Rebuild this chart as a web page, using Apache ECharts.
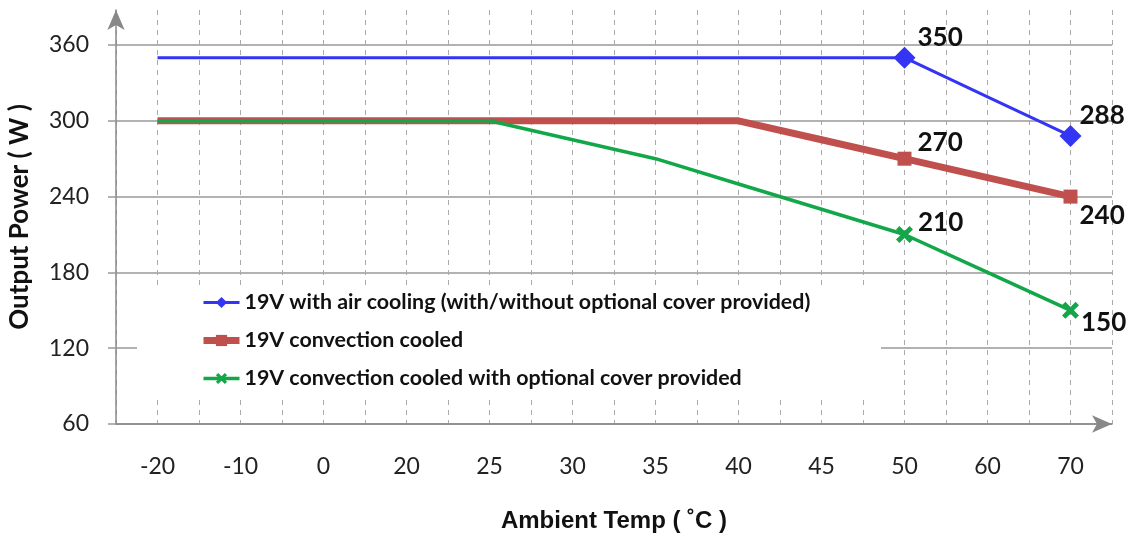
<!DOCTYPE html>
<html><head><meta charset="utf-8">
<script src="https://cdn.jsdelivr.net/npm/echarts@6/dist/echarts.min.js"></script>
<style>html,body{margin:0;padding:0;background:#fff}#c{width:1129px;height:541px}</style>
</head><body><div id="c"></div>
<script>
const categories = ['-20','-10','0','20','25','30','35','40','45','50','60','70'];
const seriesNames = [
  '19V with air cooling (with/without optional cover provided)',
  '19V convection cooled',
  '19V convection cooled with optional cover provided'
];
const airCooled = [350,350,350,350,350,350,350,350,350,350,319,288];
const convection = [300,300,300,300,300,300,300,300,285,270,255,240];
const convectionCover = [300,300,300,300,300,285,270,250,230,210,180,150];
const labeledTemps = ['50','70'];
const yMin = 60, yMax = 360, yStep = 60;

const halfCats = categories.flatMap(c => [c + 'a', c + 'b']);
const crossPath = 'path://M2,0 L5,3 L8,0 L10,2 L7,5 L10,8 L8,10 L5,7 L2,10 L0,8 L3,5 L0,2 Z';

function build(values, offsets) {
  return values.map((v, i) => {
    const k = labeledTemps.indexOf(categories[i]);
    if (k < 0) return { value: v, symbol: 'none' };
    return { value: v, label: { show: true, offset: offsets[k] } };
  });
}
const labelBase = { position: 'right', distance: 5, fontFamily: 'Lato', fontWeight: 'bold', fontSize: 26, color: '#111' };

const chart = echarts.init(document.getElementById('c'), null, { renderer: 'canvas' });
chart.setOption({
  animation: false,
  backgroundColor: '#fff',
  grid: [
    { left: 116, right: 17, top: 10, bottom: 117, outerBoundsMode: 'none', containLabel: false },
    { left: 116, right: 17, top: 45, bottom: 117, outerBoundsMode: 'none', containLabel: false }
  ],
  xAxis: [
    { gridIndex: 0, type: 'category', data: halfCats, boundaryGap: true,
      axisLine: { show: false }, axisTick: { show: false }, axisLabel: { show: false },
      splitLine: { show: true, lineStyle: { color: '#aaa', type: [5, 5], width: 1 } } },
    { gridIndex: 1, type: 'category', data: categories, boundaryGap: true,
      axisLine: { show: true, symbol: ['none', 'arrow'], symbolSize: [13, 20], lineStyle: { color: '#888', width: 1.5 } },
      axisTick: { show: false },
      axisLabel: { margin: 31, fontFamily: 'Lato', fontSize: 23, color: '#222' },
      splitLine: { show: false },
      name: 'Ambient Temp ( ˚C )', nameLocation: 'middle', nameGap: 85,
      nameTextStyle: { fontFamily: 'Liberation Sans', fontWeight: 'bold', fontSize: 24, color: '#111' } }
  ],
  yAxis: [
    { gridIndex: 0, type: 'value', min: 0, max: 1,
      axisLine: { show: true, symbol: ['none', 'arrow'], symbolSize: [13, 20], lineStyle: { color: '#888', width: 1.5 } },
      axisTick: { show: false }, axisLabel: { show: false }, splitLine: { show: false },
      name: 'Output Power ( W )', nameLocation: 'middle', nameGap: 83,
      nameTextStyle: { fontFamily: 'Lato', fontWeight: 'bold', fontSize: 26, color: '#111' } },
    { gridIndex: 1, type: 'value', min: yMin, max: yMax, interval: yStep,
      axisLine: { show: false },
      axisTick: { show: true, length: 8, lineStyle: { color: '#999', width: 1.5 } },
      axisLabel: { margin: 27, fontFamily: 'Lato', fontSize: 23, color: '#222' },
      splitLine: { show: true, lineStyle: { color: '#999', width: 1.5 } } }
  ],
  graphic: [
    { type: 'rect', z: 1, shape: { x: 137, y: 287, width: 744, height: 111 }, style: { fill: '#fff' } }
  ],
  legend: {
    orient: 'vertical', left: 195, top: 287, itemGap: 17, itemWidth: 36, itemHeight: 14,
    textStyle: { fontFamily: 'Lato', fontWeight: 'bold', fontSize: 21.4, color: '#111' },
    data: [
      { name: seriesNames[0], lineStyle: { width: 3 } },
      { name: seriesNames[1], lineStyle: { width: 7 } },
      { name: seriesNames[2], lineStyle: { width: 3.5 } }
    ]
  },
  series: [
    { name: seriesNames[0], type: 'line', xAxisIndex: 1, yAxisIndex: 1, z: 4,
      symbol: 'diamond', symbolSize: 22, color: '#3434F4',
      lineStyle: { width: 3, color: '#3434F4' }, itemStyle: { color: '#3434F4' },
      label: labelBase,
      data: build(airCooled, [[-3, -20], [-7, -20]]) },
    { name: seriesNames[1], type: 'line', xAxisIndex: 1, yAxisIndex: 1, z: 3,
      symbol: 'rect', symbolSize: 14, color: '#C0504D',
      lineStyle: { width: 7, color: '#C0504D' }, itemStyle: { color: '#C0504D' },
      label: labelBase,
      data: build(convection, [[1, -16], [-3, 19]]) },
    { name: seriesNames[2], type: 'line', xAxisIndex: 1, yAxisIndex: 1, z: 5,
      symbol: crossPath, symbolSize: 17, color: '#12A84A',
      lineStyle: { width: 3.5, color: '#12A84A' }, itemStyle: { color: '#12A84A' },
      label: labelBase,
      data: build(convectionCover, [[0, -12], [-3, 12]]) }
  ]
});
</script></body></html>
